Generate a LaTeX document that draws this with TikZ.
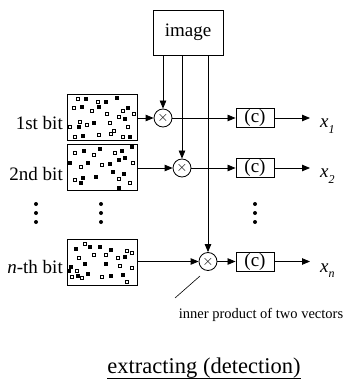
\documentclass[tikz,border=0pt]{standalone}
\usepackage{fontspec}
\setmainfont{Liberation Serif}
\usetikzlibrary{arrows.meta}
\tikzset{
  lbl/.style={font=\fontsize{19}{22}\selectfont, inner sep=0pt},
  frame/.style={draw, line width=0.9pt, inner sep=0pt},
  bitbox/.style={frame, minimum width=70pt, minimum height=46pt},
  cbox/.style={frame, minimum width=38pt, minimum height=19pt, font=\fontsize{19}{22}\selectfont},
  mult/.style={draw, circle, line width=0.8pt, minimum size=18pt, inner sep=0pt, font=\fontsize{15}{15}\selectfont},
  conn/.style={line width=0.8pt},
  arr/.style={conn, -{Triangle[length=8pt, width=6.5pt]}},
}
\newcommand{\filledsq}[1]{\foreach \px/\py in {#1} \fill (\px-1.6,\py-1.6) rectangle ++(3.2,3.2);}
\newcommand{\opensq}[1]{\foreach \px/\py in {#1} \draw[line width=0.7pt] (\px-1.5,\py-1.5) rectangle ++(3,3);}
\begin{document}
\begin{tikzpicture}[x=1pt, y=-1pt]
\useasboundingbox (0,0) rectangle (350,379);

% source image
\node[frame, minimum width=70pt, minimum height=45pt, font=\fontsize{19}{22}\selectfont] (img) at (188,32.5) {image};

% watermark patterns, one per bit
\node[bitbox] (b1) at (102,117.5) {};
\node[bitbox] (b2) at (102,167.5) {};
\node[bitbox] (bn) at (102,262.5) {};

\filledsq{86/99,106/102,117/98,82/107,99/107,128/108,125/119,79/127,94/123,83/136,130/137}
\opensq{78/99,98/102,74/108,92/111,107/114,123/111,134/114,80/122,87/125,70/127,110/123,119/117,128/127,114/131,111/134,75/137,99/135,123/137}

\filledsq{84/151,100/149,122/151,132/147,70/163,88/163,110/164,119/160,125/158,113/172,96/177,124/174,83/178,81/183,119/188}
\opensq{75/153,94/155,115/153,81/167,102/165,133/163,75/180,119/179,130/183}

\filledsq{90/247,76/249,100/247,111/250,85/264,125/257,106/264,71/267,69/271,78/276,88/274,111/276,123/275}
\opensq{85/244,94/255,106/255,127/251,132/253,79/258,118/258,120/266,132/268,77/271,72/277,82/278,102/277,127/282}

% bit labels
\node[lbl, anchor=base east] (l1) at (63,130) {1st bit};
\node[lbl, anchor=base east] (l2) at (63,180) {2nd bit};
\node[lbl, anchor=base east] (ln) at (63,273) {\textit{n}-th bit};

% multipliers (inner products)
\node[mult] (m1) at (163,118) {$\times$};
\node[mult] (m2) at (182,168) {$\times$};
\node[mult] (mn) at (208,261.5) {$\times$};

% correlation boxes
\node[cbox] (c1) at (255,118) {(c)};
\node[cbox] (c2) at (255,168) {(c)};
\node[cbox] (cn) at (255,261.5) {(c)};

\coordinate (o1) at (310,118);
\coordinate (o2) at (310,168);
\coordinate (on) at (310,261.5);

% image feeds every multiplier
\draw[arr] (m1 |- img.south) -- (m1);
\draw[arr] (m2 |- img.south) -- (m2);
\draw[arr] (mn |- img.south) -- (mn);

% pattern rows
\draw[arr] (b1.east |- m1) -- (m1);
\draw[arr] (m1) -- (c1);
\draw[arr] (c1) -- (o1);
\draw[arr] (b2.east |- m2) -- (m2);
\draw[arr] (m2) -- (c2);
\draw[arr] (c2) -- (o2);
\draw[arr] (bn.east |- mn) -- (mn);
\draw[arr] (mn) -- (cn);
\draw[arr] (cn) -- (on);

% outputs
\node[lbl, anchor=base west] (x1) at (320,128) {\textit{x}\raisebox{-0.3em}{\fontsize{12}{12}\selectfont\textit{1}}};
\node[lbl, anchor=base west] (x2) at (320,178) {\textit{x}\raisebox{-0.3em}{\fontsize{12}{12}\selectfont\textit{2}}};
\node[lbl, anchor=base west] (xn) at (320,272) {\textit{x}\raisebox{-0.3em}{\fontsize{12}{12}\selectfont\textit{n}}};

% vertical ellipses
\foreach \dx in {36,101,255}
  \foreach \dy in {204,213,222}
    \fill (\dx,\dy) circle (2);

% annotation
\node[inner sep=0pt, font=\fontsize{14.5}{16}\selectfont] (note) at (261,315) {inner product of two vectors};
\coordinate (tip) at (200,276);
\coordinate (tail) at (175,298);
\draw[line width=0.6pt] (tip) -- (tail);

% caption
\node[inner sep=0pt, anchor=base, font=\fontsize{22.5}{26}\selectfont] (title) at (204,373) {extracting (detection)};
\draw[line width=0.9pt] ([yshift=-5pt]title.base west) -- ([yshift=-5pt]title.base east);
\end{tikzpicture}
\end{document}
